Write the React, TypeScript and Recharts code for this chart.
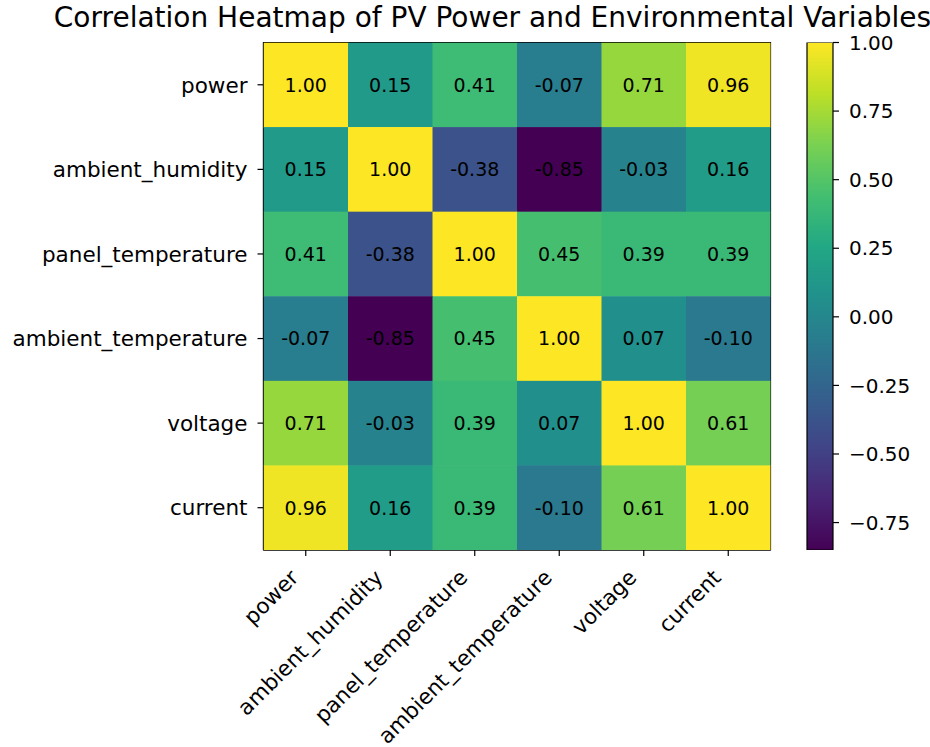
import React from "react";
import { ScatterChart, Scatter, XAxis, YAxis, ReferenceArea, BarChart, Bar } from "recharts";

const variables = ["power", "ambient_humidity", "panel_temperature", "ambient_temperature", "voltage", "current"];
const rowPower = [1.0, 0.15, 0.41, -0.07, 0.71, 0.96];
const rowHumidity = [0.15, 1.0, -0.38, -0.85, -0.03, 0.16];
const rowPanelTemp = [0.41, -0.38, 1.0, 0.45, 0.39, 0.39];
const rowAmbientTemp = [-0.07, -0.85, 0.45, 1.0, 0.07, -0.1];
const rowVoltage = [0.71, -0.03, 0.39, 0.07, 1.0, 0.61];
const rowCurrent = [0.96, 0.16, 0.39, -0.1, 0.61, 1.0];
const matrix = [rowPower, rowHumidity, rowPanelTemp, rowAmbientTemp, rowVoltage, rowCurrent];
const colorbarTicks = [1.0, 0.75, 0.5, 0.25, 0.0, -0.25, -0.5, -0.75];
const VMIN = -0.85;
const VMAX = 1.0;
const TITLE = "Correlation Heatmap of PV Power and Environmental Variables";

const FONT = "'DejaVu Sans', sans-serif";

const viridis = ["#440154", "#482475", "#414487", "#355f8d", "#2a788e", "#21918c", "#22a884", "#44bf70", "#7ad151", "#bddf26", "#fde725"];

function hexToRgb(h: string) {
  return [parseInt(h.slice(1, 3), 16), parseInt(h.slice(3, 5), 16), parseInt(h.slice(5, 7), 16)];
}
function colorFor(v: number) {
  let t = (v - VMIN) / (VMAX - VMIN);
  t = Math.max(0, Math.min(1, t));
  const p = t * (viridis.length - 1);
  const i = Math.min(Math.floor(p), viridis.length - 2);
  const f = p - i;
  const a = hexToRgb(viridis[i]);
  const b = hexToRgb(viridis[i + 1]);
  const c = a.map((x, k) => Math.round(x + (b[k] - x) * f));
  return `rgb(${c[0]},${c[1]},${c[2]})`;
}

const points = matrix.flatMap((row, i) => row.map((v, j) => ({ x: j, y: i, v })));
const colorbarData = [{ k: "cb", range: [VMIN, VMAX] }];

const W = 930;
const H = 747;
const PLOT_LEFT = 263.5;
const PLOT_RIGHT = 770.5;
const PLOT_TOP = 42.5;
const PLOT_BOTTOM = 550;
const CELL_W = (PLOT_RIGHT - PLOT_LEFT) / 6;
const CELL_H = (PLOT_BOTTOM - PLOT_TOP) / 6;
const XAXIS_H = 60;
const TICK_FS = 21.5;

const CellShape = (props: any) => {
  const { cx, cy, payload } = props;
  if (cx == null || cy == null) return null;
  return (
    <g>
      <rect x={cx - CELL_W / 2} y={cy - CELL_H / 2} width={CELL_W + 0.5} height={CELL_H + 0.5} fill={colorFor(payload.v)} />
      <text x={cx} y={cy} dy="0.36em" textAnchor="middle" fontSize={19} fontFamily={FONT} fill="#000">
        {payload.v.toFixed(2)}
      </text>
    </g>
  );
};

const XTick = (props: any) => {
  const { x, y, payload } = props;
  return (
    <g transform={`translate(${x - 6},${y + 21})`}>
      <text x={0} y={0} textAnchor="end" transform="rotate(-45)" fontSize={TICK_FS} fontFamily={FONT} fill="#000">
        {variables[payload.value]}
      </text>
    </g>
  );
};

const YTick = (props: any) => {
  const { x, y, payload } = props;
  return (
    <text x={x - 8} y={y} dy="0.36em" textAnchor="end" fontSize={TICK_FS} fontFamily={FONT} fill="#000">
      {variables[payload.value]}
    </text>
  );
};

const CbTick = (props: any) => {
  const { x, y, payload } = props;
  const v = payload.value as number;
  const s = (v < 0 ? "\u2212" : "") + Math.abs(v).toFixed(2);
  return (
    <text x={x + 8} y={y} dy="0.36em" textAnchor="start" fontSize={20} fontFamily={FONT} fill="#000">
      {s}
    </text>
  );
};

export default function App() {
  const CB_LEFT = 780;
  const CB_X0 = 807;
  const CB_X1 = 833;
  const cbW = W - CB_LEFT;
  return (
    <div style={{ position: "relative", width: W, height: H, background: "#fff", fontFamily: FONT }}>
      <style>{`body{margin:0;}`}</style>
      <div
        style={{
          position: "absolute",
          left: 0,
          width: 985,
          top: 0,
          textAlign: "center",
          fontSize: 28,
          lineHeight: "35px",
          fontFamily: FONT,
          color: "#000",
          whiteSpace: "nowrap",
        }}
      >
        {TITLE}
      </div>
      <div style={{ position: "absolute", left: 0, top: 0 }}>
        <ScatterChart
          width={W}
          height={H}
          margin={{ top: PLOT_TOP, left: 0, right: W - PLOT_RIGHT, bottom: H - PLOT_BOTTOM - XAXIS_H }}
        >
          <XAxis
            type="number"
            dataKey="x"
            domain={[-0.5, 5.5]}
            ticks={[0, 1, 2, 3, 4, 5]}
            allowDataOverflow
            height={XAXIS_H}
            tickSize={6}
            axisLine={{ stroke: "#000", strokeWidth: 1.2 }}
            tickLine={{ stroke: "#000", strokeWidth: 1.2 }}
            tick={<XTick />}
            interval={0}
          />
          <YAxis
            type="number"
            dataKey="y"
            domain={[-0.5, 5.5]}
            ticks={[0, 1, 2, 3, 4, 5]}
            reversed
            allowDataOverflow
            width={PLOT_LEFT}
            tickSize={6}
            axisLine={{ stroke: "#000", strokeWidth: 1.2 }}
            tickLine={{ stroke: "#000", strokeWidth: 1.2 }}
            tick={<YTick />}
            interval={0}
          />
          <Scatter data={points} shape={<CellShape />} isAnimationActive={false} />
          <ReferenceArea x1={-0.5} x2={5.5} y1={-0.5} y2={5.5} fill="none" stroke="#000" strokeWidth={1.2} ifOverflow="visible" />
        </ScatterChart>
      </div>
      <div style={{ position: "absolute", left: CB_LEFT, top: 0 }}>
        <BarChart
          width={cbW}
          height={H}
          data={colorbarData}
          barCategoryGap={0}
          margin={{ top: PLOT_TOP, left: CB_X0 - CB_LEFT, right: 0, bottom: H - PLOT_BOTTOM }}
        >
          <defs>
            <linearGradient id="viridisGrad" x1="0" y1="1" x2="0" y2="0">
              {viridis.map((c, i) => (
                <stop key={i} offset={`${(i / (viridis.length - 1)) * 100}%`} stopColor={c} />
              ))}
            </linearGradient>
          </defs>
          <XAxis type="category" dataKey="k" hide />
          <YAxis
            type="number"
            orientation="right"
            domain={[VMIN, VMAX]}
            ticks={colorbarTicks}
            allowDataOverflow
            width={cbW - (CB_X1 - CB_LEFT)}
            tickSize={6}
            axisLine={false}
            tickLine={{ stroke: "#000", strokeWidth: 1.2 }}
            tick={<CbTick />}
            interval={0}
          />
          <Bar dataKey="range" fill="url(#viridisGrad)" stroke="#000" strokeWidth={1.2} isAnimationActive={false} />
        </BarChart>
      </div>
    </div>
  );
}
